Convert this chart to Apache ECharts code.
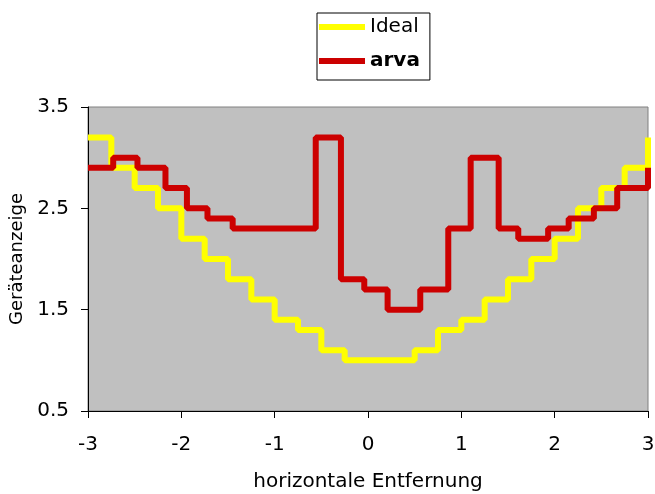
<!DOCTYPE html>
<html>
<head>
<meta charset="utf-8">
<script src="https://cdn.jsdelivr.net/npm/echarts@6/dist/echarts.min.js"></script>
<style>
  html, body { margin: 0; padding: 0; background: #fff; }
  #chart { width: 655px; height: 494px; }
</style>
</head>
<body>
<div id="chart"></div>
<script>
  // Ideal: Treppenstufen alle 0.25
  var idealX = [-3, -2.75, -2.5, -2.25, -2, -1.75, -1.5, -1.25, -1, -0.75, -0.5, -0.25,
                0, 0.25, 0.5, 0.75, 1, 1.25, 1.5, 1.75, 2, 2.25, 2.5, 2.75, 3];
  var idealY = [3.2, 2.9, 2.7, 2.5, 2.2, 2.0, 1.8, 1.6, 1.4, 1.3, 1.1, 1.0,
                1.0, 1.0, 1.1, 1.3, 1.4, 1.6, 1.8, 2.0, 2.2, 2.5, 2.7, 2.9, 3.2];
  // arva: gemessene Werte
  var arvaX = [-3, -2.73, -2.47, -2.17, -1.94, -1.72, -1.45, -0.56, -0.29, -0.04, 0.21,
               0.56, 0.86, 1.10, 1.40, 1.61, 1.93, 2.15, 2.42, 2.67, 3];
  var arvaY = [2.9, 3.0, 2.9, 2.7, 2.5, 2.4, 2.3, 3.2, 1.8, 1.7, 1.5,
               1.7, 2.3, 3.0, 2.3, 2.2, 2.3, 2.4, 2.5, 2.7, 2.9];
  var xTicks = [-3, -2, -1, 0, 1, 2, 3];
  var yTicks = [0.5, 1.5, 2.5, 3.5];

  function pairs(xs, ys) {
    var out = [];
    for (var i = 0; i < xs.length; i++) out.push([xs[i], ys[i]]);
    return out;
  }

  var font = 'DejaVu Sans';
  var myChart = echarts.init(document.getElementById('chart'));
  var option = {
    animation: false,
    backgroundColor: '#fff',
    legend: {
      orient: 'vertical',
      left: 317,
      top: 13,
      padding: [4, 10, 9, 2],
      itemGap: 14,
      itemWidth: 46,
      itemHeight: 6,
      icon: 'rect',
      borderColor: '#000',
      borderWidth: 1,
      selectedMode: false,
      textStyle: { fontFamily: font, fontSize: 20, lineHeight: 20, color: '#000' },
      data: [
        { name: 'Ideal' },
        { name: 'arva', textStyle: { fontWeight: 'bold' } }
      ]
    },
    grid: {
      left: 88,
      right: 7,
      top: 107,
      bottom: 83,
      show: true,
      backgroundColor: '#c0c0c0',
      borderColor: '#808080',
      borderWidth: 1,
      containLabel: false,
      outerBoundsMode: 'none'
    },
    xAxis: {
      type: 'value',
      min: xTicks[0],
      max: xTicks[xTicks.length - 1],
      interval: 1,
      name: 'horizontale Entfernung',
      nameLocation: 'middle',
      nameGap: 61,
      nameTextStyle: { fontFamily: font, fontSize: 20, color: '#000' },
      axisLine: { onZero: false, lineStyle: { color: '#000', width: 1 } },
      axisTick: { length: 7, lineStyle: { color: '#000' } },
      splitLine: { show: false },
      axisLabel: { fontFamily: font, fontSize: 20, color: '#000', margin: 24 }
    },
    yAxis: {
      type: 'value',
      min: yTicks[0],
      max: yTicks[yTicks.length - 1],
      interval: 1,
      name: 'Geräteanzeige',
      nameLocation: 'middle',
      nameGap: 60,
      nameTextStyle: { fontFamily: font, fontSize: 18, color: '#000' },
      axisLine: { show: true, onZero: false, lineStyle: { color: '#000', width: 1 } },
      axisTick: { show: true, length: 7, lineStyle: { color: '#000' } },
      splitLine: { show: false },
      axisLabel: {
        fontFamily: font, fontSize: 20, color: '#000', margin: 19,
        formatter: function (v) { return v.toFixed(1); }
      }
    },
    series: [{
      name: 'Ideal',
      type: 'line',
      step: 'end',
      showSymbol: false,
      color: '#ffff00',
      lineStyle: { color: '#ffff00', width: 6 },
      data: pairs(idealX, idealY)
    }, {
      name: 'arva',
      type: 'line',
      step: 'end',
      showSymbol: false,
      color: '#cc0000',
      lineStyle: { color: '#cc0000', width: 6 },
      data: pairs(arvaX, arvaY)
    }]
  };
  myChart.setOption(option);
</script>
</body>
</html>
